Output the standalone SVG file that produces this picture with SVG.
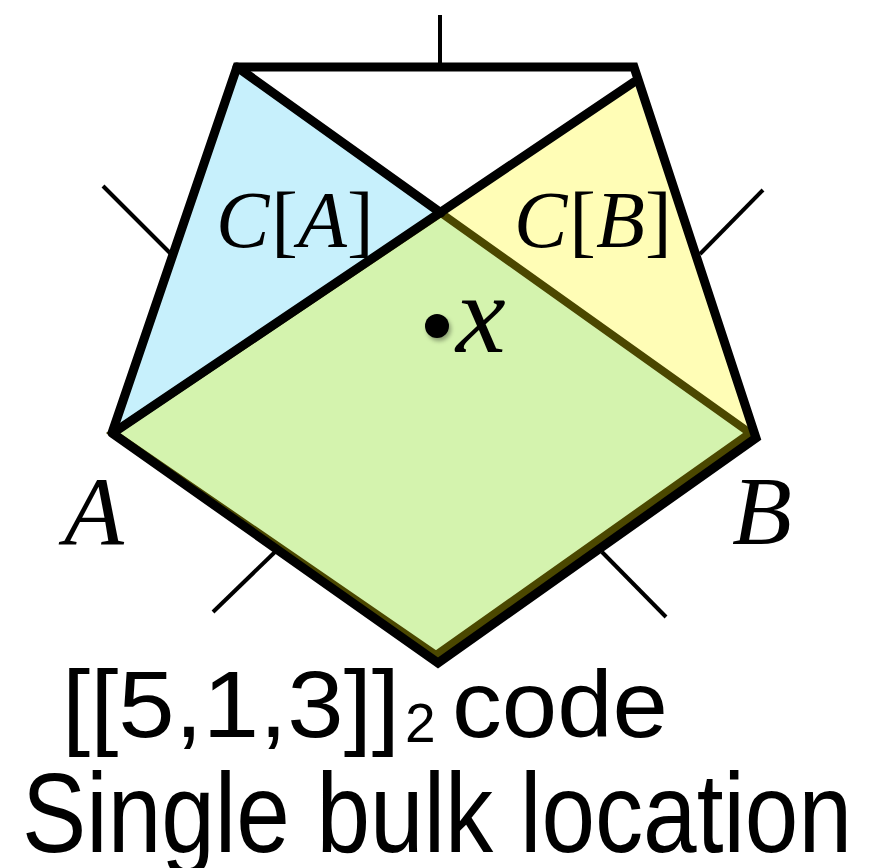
<svg xmlns="http://www.w3.org/2000/svg" width="876" height="868" viewBox="0 0 876 868">
<defs>
<style>
.edge{fill:none;stroke:#000;stroke-width:9;stroke-linejoin:miter;stroke-linecap:round}
.tick{stroke:#000;stroke-width:4;fill:none}
.math{font-family:"Liberation Serif","DejaVu Serif",serif;font-style:italic;fill:#000}
.up{font-style:normal}
.sans{font-family:"Liberation Sans",Arial,sans-serif;fill:#000}
</style>
<filter id="sh" x="-50%" y="-50%" width="200%" height="200%">
<feDropShadow dx="2" dy="3" stdDeviation="2" flood-color="#000" flood-opacity="0.35"/>
</filter>
</defs>
<rect width="876" height="868" fill="#fff"/>
<g id="regions">
<polygon id="region-CA" points="237,67 441,213 113,433" fill="#c7f0fc"/>
<polygon id="region-CB" points="634,82 752,434 441,213" fill="#fffdb6"/>
<polygon id="region-green" points="113,433 441,213 750,433 436,655" fill="#d4f3ae" stroke="#4b4700" stroke-width="8" stroke-linejoin="miter"/>
</g>
<g id="connectors">
<line class="tick" x1="440" y1="15" x2="440" y2="70"/>
<line class="tick" x1="103" y1="186" x2="171" y2="254"/>
<line class="tick" x1="763" y1="190" x2="700" y2="254"/>
<line class="tick" x1="213" y1="612" x2="276" y2="551"/>
<line class="tick" x1="666" y1="617" x2="602" y2="552"/>
<polyline class="edge" points="112,433 237,67 634,67 756,438 438,663 112,433"/>
<line class="edge" x1="237" y1="67" x2="441" y2="213"/>
<line class="edge" x1="634" y1="82" x2="113" y2="433"/>
</g>
<g id="label-CA">
<text class="math" x="216" y="247" font-size="80">C<tspan class="up" dx="2">[</tspan><tspan dx="0">A</tspan><tspan class="up" dx="0">]</tspan></text>
</g>
<g id="label-CB">
<text class="math" x="514" y="247" font-size="80">C<tspan class="up" dx="2">[</tspan><tspan dx="0">B</tspan><tspan class="up" dx="0">]</tspan></text>
</g>
<g id="point-x">
<circle cx="437" cy="326" r="12" fill="#000" filter="url(#sh)"/>
<text class="math" x="456" y="352" font-size="112">x</text>
</g>
<g id="label-A"><text class="math" x="64" y="544" font-size="98">A</text></g>
<g id="label-B"><text class="math" x="732" y="544" font-size="98">B</text></g>
<g id="caption">
<text class="sans" x="62" y="737" font-size="94" textLength="338" lengthAdjust="spacingAndGlyphs">[[5,1,3]]</text>
<text class="sans" x="405" y="742" font-size="55">2</text>
<text class="sans" x="452" y="737" font-size="94" textLength="216" lengthAdjust="spacingAndGlyphs">code</text>
<text class="sans" x="22" y="852" font-size="113" textLength="830" lengthAdjust="spacingAndGlyphs">Single bulk location</text>
</g>
</svg>
